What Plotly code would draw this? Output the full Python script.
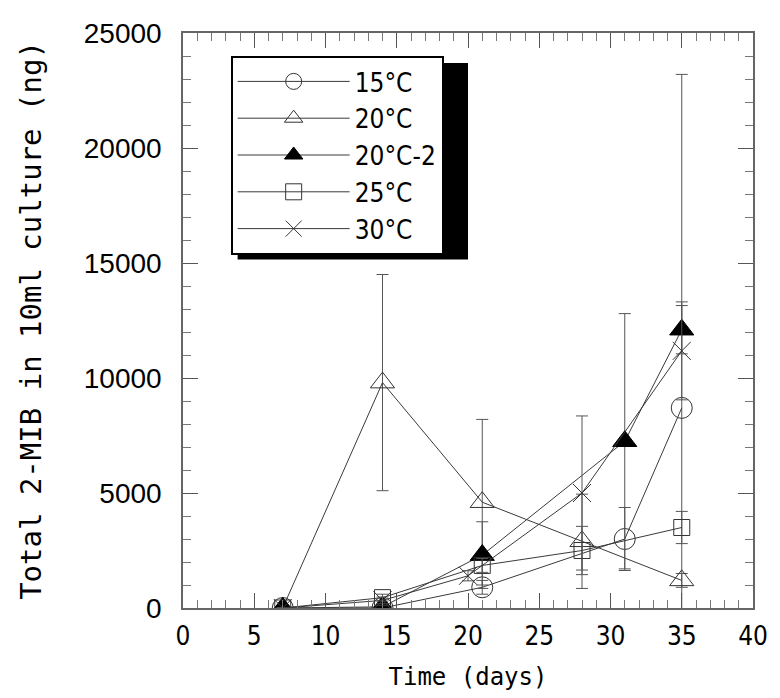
import plotly.graph_objects as go

# ---- data ----
names = ["15°C", "20°C", "20°C-2", "25°C", "30°C"]

days_15 = [7, 14, 21, 31, 35]
val_15 = [0, 0, 900, 3000, 8700]
err_15 = [0, 100, 300, 1370, 14500]

days_20 = [7, 14, 21, 28, 35]
val_20 = [0, 9800, 4600, 2900, 1200]
err_20 = [0, 4700, 3600, 2050, 300]

days_20b = [7, 14, 21, 31, 35]
val_20b = [0, 50, 2300, 7250, 12100]
err_20b = [0, 100, 1450, 5550, 1050]

days_25 = [7, 14, 21, 28, 35]
val_25 = [0, 450, 1850, 2500, 3500]
err_25 = [0, 150, 300, 1050, 700]

days_30 = [7, 14, 20, 28, 35]
val_30 = [0, 330, 1400, 5000, 11180]
err_30 = [0, 150, 220, 3350, 2130]

x_ticks = [0, 5, 10, 15, 20, 25, 30, 35, 40]
y_ticks = [0, 5000, 10000, 15000, 20000, 25000]

series = [
    (names[0], days_15, val_15, err_15, "circle-open", 21, "#333333"),
    (names[1], days_20, val_20, err_20, "triangle-up-open", 21, "#333333"),
    (names[2], days_20b, val_20b, err_20b, "triangle-up", 21, "#000000"),
    (names[3], days_25, val_25, err_25, "square-open", 16, "#333333"),
    (names[4], days_30, val_30, err_30, "x-thin-open", 18, "#333333"),
]

fig = go.Figure()
for name, xs, ys, es, sym, size, col in series:
    fig.add_trace(go.Scatter(
        x=xs, y=ys, name=name, mode="lines+markers",
        line=dict(color="#3a3a3a", width=1),
        marker=dict(symbol=sym, size=size, color=col,
                    line=dict(color=col, width=1)),
        error_y=dict(type="data", array=es, visible=True,
                     color="#555555", thickness=1, width=6),
    ))

NARROW = "DejaVu Sans Condensed, Liberation Sans Narrow, Arial Narrow, DejaVu Sans"
MONO = "DejaVu Sans Mono, Liberation Mono, monospace"

L, R, T, B = 183, 757, 33, 608
def px_x(p):
    return (p - L) / (R - L)
def px_y(p):
    return (B - p) / (B - T)

# legend box geometry (pixels)
LEG_L, LEG_T = 231, 56
LEG_W = 232
LEG_FONT = 26
LEG_H = 5 * (LEG_FONT * 1.3 + 3) + 12.5
SH = 7

fig.add_shape(type="rect", xref="paper", yref="paper",
              x0=px_x(LEG_L + SH), x1=px_x(LEG_L + LEG_W + SH),
              y0=px_y(LEG_T + LEG_H + SH), y1=px_y(LEG_T + SH),
              fillcolor="black", line=dict(width=0), layer="above")

fig.update_layout(
    width=780, height=698,
    margin=dict(l=L, r=780 - R, t=T, b=698 - B),
    paper_bgcolor="white", plot_bgcolor="white",
    showlegend=True,
    legend=dict(
        x=px_x(LEG_L), y=px_y(LEG_T), xanchor="left", yanchor="top",
        bgcolor="white", bordercolor="black", borderwidth=2,
        font=dict(family=NARROW, size=LEG_FONT, color="black"),
        itemwidth=112, entrywidth=LEG_W + 4, entrywidthmode="pixels",
    ),
    xaxis=dict(
        range=[0, 40], tickmode="array", tickvals=x_ticks,
        ticks="inside", ticklen=15, tickwidth=1, tickcolor="#555555",
        minor=dict(dtick=1, ticks="inside", ticklen=8, tickcolor="#777777", tickwidth=1),
        showline=True, linecolor="#666666", linewidth=1.5, mirror="allticks",
        showgrid=False, zeroline=False,
        tickfont=dict(family=NARROW, size=26, color="black"),
        ticklabelstandoff=4,
        title=dict(text="Time (days)", font=dict(family=MONO, size=24, color="black"), standoff=18),
    ),
    yaxis=dict(
        range=[0, 25000], tickmode="array", tickvals=y_ticks, tickformat="d",
        ticks="inside", ticklen=15, tickwidth=1, tickcolor="#555555",
        minor=dict(dtick=1000, ticks="inside", ticklen=8, tickcolor="#777777", tickwidth=1),
        showline=True, linecolor="#666666", linewidth=1.5, mirror="allticks",
        showgrid=False, zeroline=False,
        tickfont=dict(family="Liberation Sans, Arial", size=28, color="black"),
        ticklabelstandoff=14,
        title=dict(text="Total 2-MIB in 10ml culture (ng)",
                   font=dict(family=MONO, size=29, color="black"), standoff=34),
    ),
)

fig.write_html("out.html")
